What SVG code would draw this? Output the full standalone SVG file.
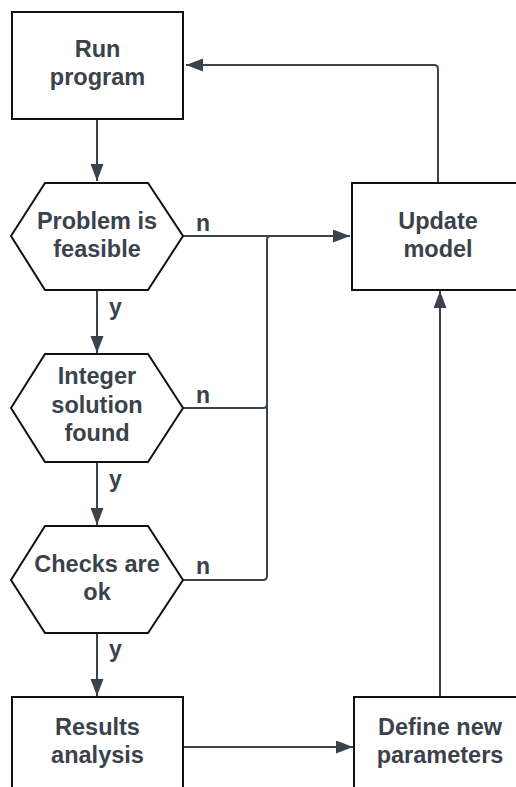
<svg xmlns="http://www.w3.org/2000/svg" width="516" height="787" viewBox="0 0 516 787">
  <defs>
    <marker id="arrow" markerUnits="userSpaceOnUse" markerWidth="18" markerHeight="14" refX="17" refY="6.5" orient="auto">
      <path d="M0,0 L17,6.5 L0,13 Z" fill="#3a424c"/>
    </marker>
    <style>
      .shape { fill: #ffffff; stroke: #111111; stroke-width: 2; }
      .label { font-family: "Liberation Sans", Arial, sans-serif; font-weight: bold; font-size: 23.5px; fill: #3a424c; text-anchor: middle; }
      .tag { font-family: "Liberation Sans", Arial, sans-serif; font-weight: bold; font-size: 23px; fill: #3a424c; }
      .conn { fill: none; stroke: #3a424c; stroke-width: 2; }
    </style>
  </defs>
  <rect width="516" height="787" fill="#ffffff"/>

  <!-- connectors -->
  <g id="connectors">
    <path class="conn" d="M97,119 V181" marker-end="url(#arrow)"/>
    <path class="conn" d="M97,290 V353" marker-end="url(#arrow)"/>
    <path class="conn" d="M97,462 V525" marker-end="url(#arrow)"/>
    <path class="conn" d="M97,633 V696" marker-end="url(#arrow)"/>
    <path class="conn" d="M183,236 H350" marker-end="url(#arrow)"/>
    <path class="conn" d="M183,408 H263 Q267,408 267,404"/>
    <path class="conn" d="M183,580 H263 Q267,580 267,576 V240 Q267,236 271,236 H300"/>
    <path class="conn" d="M438,183 V69 Q438,65 434,65 H186" marker-end="url(#arrow)"/>
    <path class="conn" d="M440,697 V291" marker-end="url(#arrow)"/>
    <path class="conn" d="M184,747 H353" marker-end="url(#arrow)"/>
    <text class="tag" x="196" y="231">n</text>
    <text class="tag" x="196" y="403">n</text>
    <text class="tag" x="196" y="574">n</text>
    <text class="tag" x="109" y="315">y</text>
    <text class="tag" x="109" y="487">y</text>
    <text class="tag" x="109" y="657">y</text>
  </g>

  <g id="run-program">
    <rect class="shape" x="12" y="12" width="171" height="107"/>
    <text class="label" x="97.5" y="57">Run</text>
    <text class="label" x="97.5" y="85">program</text>
  </g>

  <g id="problem-feasible">
    <polygon class="shape" points="11,236 45,183 148,183 183,236 148,290 45,290"/>
    <text class="label" x="97" y="229">Problem is</text>
    <text class="label" x="97" y="257">feasible</text>
  </g>

  <g id="integer-solution">
    <polygon class="shape" points="11,408 45,354 148,354 183,408 148,462 45,462"/>
    <text class="label" x="97" y="384">Integer</text>
    <text class="label" x="97" y="413">solution</text>
    <text class="label" x="97" y="441">found</text>
  </g>

  <g id="checks-ok">
    <polygon class="shape" points="11,580 45,526 148,526 183,580 148,633 45,633"/>
    <text class="label" x="97" y="572">Checks are</text>
    <text class="label" x="97" y="600">ok</text>
  </g>

  <g id="results-analysis">
    <rect class="shape" x="12" y="697" width="171" height="110"/>
    <text class="label" x="97.5" y="735">Results</text>
    <text class="label" x="97.5" y="763">analysis</text>
  </g>

  <g id="update-model">
    <rect class="shape" x="352" y="183" width="180" height="107"/>
    <text class="label" x="438" y="229">Update</text>
    <text class="label" x="438" y="257">model</text>
  </g>

  <g id="define-parameters">
    <rect class="shape" x="354" y="697" width="180" height="110"/>
    <text class="label" x="440" y="735">Define new</text>
    <text class="label" x="440" y="763">parameters</text>
  </g>
</svg>
